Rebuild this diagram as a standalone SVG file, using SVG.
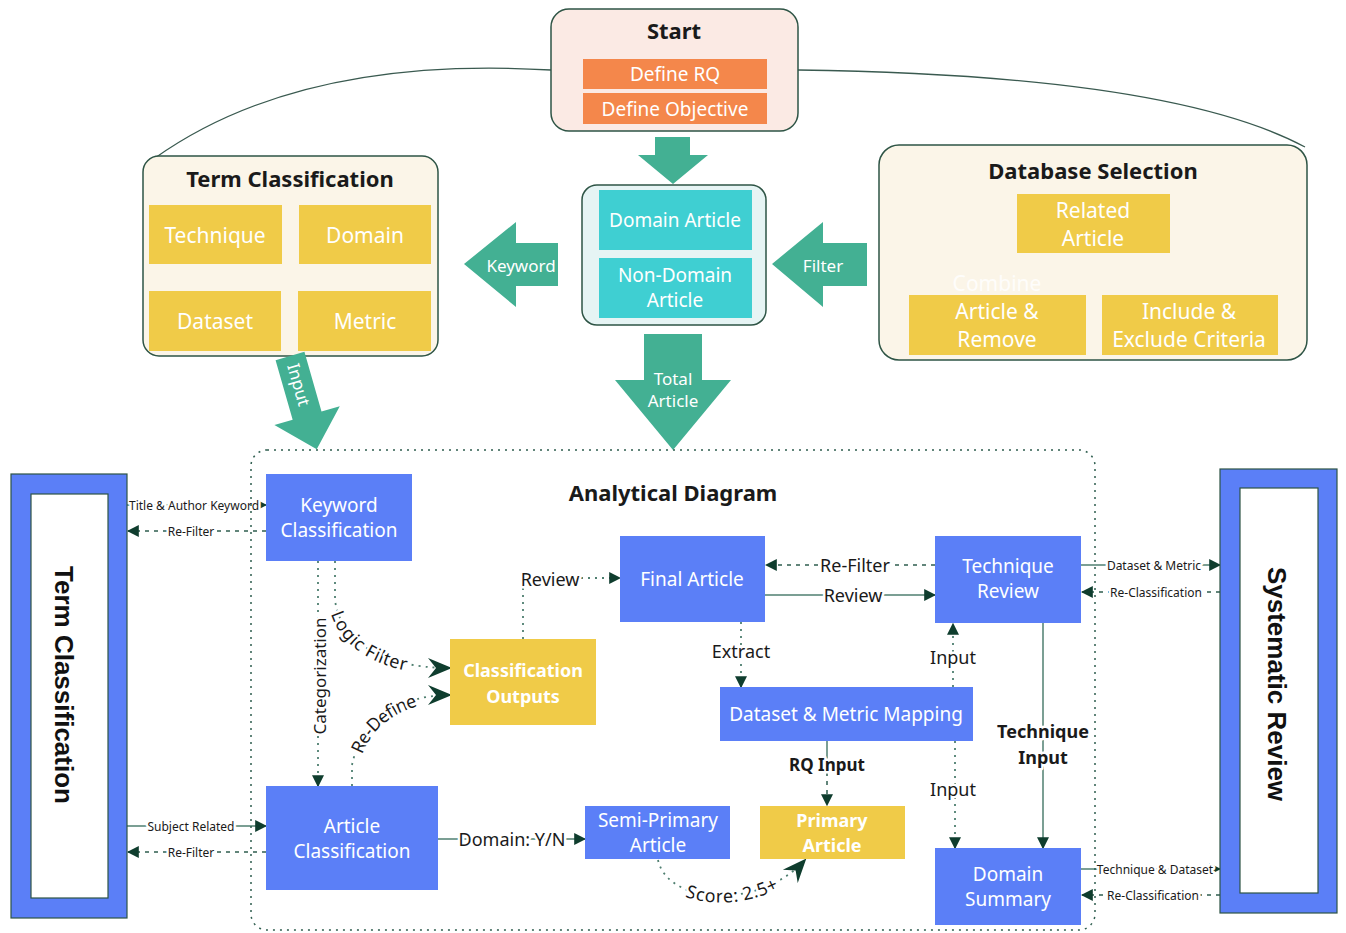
<svg xmlns="http://www.w3.org/2000/svg" width="1346" height="933" viewBox="0 0 1346 933">
<defs>
<marker id="tri" markerUnits="userSpaceOnUse" markerWidth="12" markerHeight="12" viewBox="0 0 10 10" refX="9" refY="5" orient="auto"><path d="M0,0 L10,5 L0,10 z" fill="#0f3d2e"/></marker>
<marker id="barb" markerUnits="userSpaceOnUse" markerWidth="26" markerHeight="20" viewBox="0 0 12 10" refX="11" refY="5" orient="auto"><path d="M0,0 L12,5 L0,10 L4,5 z" fill="#0f3d2e"/></marker>
<style>
.frame{fill:#fbf5e8;stroke:#2e5445;stroke-width:1.5}
.yel{fill:#f0cb48}
.blue{fill:#5b7ff7}
.cyan{fill:#3fcfd2}
.org{fill:#f4874b}
.garrow{fill:#43b093}
.wt{font-family:"Noto Sans","Open Sans",sans-serif;fill:#fff;text-anchor:middle;dominant-baseline:central}
.wb{font-family:"Noto Sans","Open Sans",sans-serif;fill:#fff;text-anchor:middle;dominant-baseline:central;font-weight:bold}
.title{font-family:"Noto Sans","Open Sans",sans-serif;fill:#1a1a1a;text-anchor:middle;dominant-baseline:central;font-weight:bold;font-size:22px}
.vt{font-family:"Liberation Sans",Arial,sans-serif;fill:#111;text-anchor:middle;dominant-baseline:central;font-weight:bold;font-size:26px}
.lab{font-family:"Noto Sans","Open Sans",sans-serif;fill:#1a1a1a;text-anchor:middle;dominant-baseline:central;stroke:#fff;stroke-width:5px;paint-order:stroke;stroke-linejoin:round}
.sl{font-size:12px}
.ml{font-size:18px}
.solid{fill:none;stroke:#4f7f70;stroke-width:1.5}
.dash{fill:none;stroke:#2f5e4f;stroke-width:1.5;stroke-dasharray:4 5}
.dot{fill:none;stroke:#4f7f70;stroke-width:1.8;stroke-dasharray:2 5}
.curve{fill:none;stroke:#3a5a50;stroke-width:1.3}
</style>
</defs>

<g id="connectors">
  <path class="curve" d="M551,70 Q300,55 155,158"/>
  <path class="curve" d="M798,70 Q1170,75 1305,147"/>
  <path class="dash" d="M1093,253 L1093,264 M968,264 L1190,264" stroke-dasharray="3 5"/>
  <path class="dash" d="M968,264 L968,295" stroke-dasharray="3 5" marker-end="url(#tri)"/>
  <path class="dash" d="M1190,264 L1190,295" stroke-dasharray="3 5" marker-end="url(#tri)"/>
  <path class="solid" d="M127,505 L266,505" marker-end="url(#tri)"/>
  <text class="lab sl" x="194" y="505">Title &amp; Author Keyword</text>
  <path class="dash" d="M266,531 L128,531" marker-end="url(#tri)"/>
  <text class="lab sl" x="191" y="531">Re-Filter</text>
  <path class="solid" d="M127,826 L266,826" marker-end="url(#tri)"/>
  <text class="lab sl" x="191" y="826">Subject Related</text>
  <path class="dash" d="M266,852 L128,852" marker-end="url(#tri)"/>
  <text class="lab sl" x="191" y="852">Re-Filter</text>
  <path class="solid" d="M1081,565 L1220,565" marker-end="url(#tri)"/>
  <text class="lab sl" x="1154" y="565">Dataset &amp; Metric</text>
  <path class="dash" d="M1220,592 L1082,592" marker-end="url(#tri)"/>
  <text class="lab sl" x="1156" y="592">Re-Classification</text>
  <path class="solid" d="M1081,869 L1220,869" marker-end="url(#tri)"/>
  <text class="lab sl" x="1155" y="869">Technique &amp; Dataset</text>
  <path class="dash" d="M1220,895 L1082,895" marker-end="url(#tri)"/>
  <text class="lab sl" x="1153" y="895">Re-Classification</text>
  <path class="dot" d="M318,561 L318,786" marker-end="url(#tri)"/>
  <text class="lab" font-size="17" transform="translate(319,676) rotate(-90)">Categorization</text>
  <path id="lf" class="dot" d="M335,561 L335,600 C340,640 380,668 450,668" marker-end="url(#barb)"/>
  <text class="lab" font-size="18"><textPath href="#lf" startOffset="52%" text-anchor="middle">Logic Filter</textPath></text>
  <path id="rd" class="dot" d="M352,786 L352,765 C360,725 395,695 450,695" marker-end="url(#barb)"/>
  <text class="lab" font-size="18"><textPath href="#rd" startOffset="50%" text-anchor="middle">Re-Define</textPath></text>
  <path class="dot" d="M523,639 L523,578 L620,578" marker-end="url(#tri)"/>
  <text class="lab ml" x="550" y="579">Review</text>
  <path class="dash" d="M935,565 L766,565" marker-end="url(#tri)"/>
  <text class="lab ml" x="855" y="565">Re-Filter</text>
  <path class="solid" d="M765,595 L935,595" marker-end="url(#tri)"/>
  <text class="lab ml" x="853" y="595">Review</text>
  <path class="dot" d="M741,622 L741,687" marker-end="url(#tri)"/>
  <text class="lab ml" x="741" y="651">Extract</text>
  <path class="dot" d="M953,687 L953,624" marker-end="url(#tri)"/>
  <text class="lab ml" x="953" y="657">Input</text>
  <path class="solid" d="M1043,623 L1043,848" marker-end="url(#tri)"/>
  <text class="lab ml" x="1043" y="731" font-weight="bold">Technique</text>
  <text class="lab ml" x="1043" y="757" font-weight="bold">Input</text>
  <path class="dot" d="M955,741 L955,848" marker-end="url(#tri)"/>
  <text class="lab ml" x="953" y="789">Input</text>
  <path class="solid" d="M827,741 L827,772"/>
  <path class="dash" d="M827,772 L827,805" stroke-dasharray="3 4" marker-end="url(#tri)"/>
  <text class="lab" font-size="17" font-weight="bold" x="827" y="764">RQ Input</text>
  <path class="solid" d="M438,839 L585,839" marker-end="url(#tri)"/>
  <text class="lab ml" x="512" y="839">Domain: Y/N</text>
  <path id="sc" class="dot" d="M658,860 C668,905 760,910 805,860" marker-end="url(#barb)"/>
  <text class="lab ml"><textPath href="#sc" startOffset="52%" text-anchor="middle">Score: 2.5+</textPath></text>
</g>

<g id="start">
  <rect x="551" y="9" width="247" height="122" rx="18" fill="#fbeae4" stroke="#2e5445" stroke-width="1.5"/>
  <text class="title" x="674" y="30" font-size="24">Start</text>
  <rect class="org" x="583" y="59" width="184" height="30"/>
  <text class="wt" x="675" y="74" font-size="19">Define RQ</text>
  <rect class="org" x="583" y="93" width="184" height="31"/>
  <text class="wt" x="675" y="109" font-size="19">Define Objective</text>
</g>

<g id="term-classification">
  <rect class="frame" x="143" y="156" width="295" height="200" rx="16"/>
  <text class="title" x="290" y="178">Term Classification</text>
  <rect class="yel" x="149" y="205" width="133" height="59"/>
  <text class="wt" x="215" y="235" font-size="21">Technique</text>
  <rect class="yel" x="299" y="205" width="132" height="59"/>
  <text class="wt" x="365" y="235" font-size="21">Domain</text>
  <rect class="yel" x="149" y="291" width="132" height="60"/>
  <text class="wt" x="215" y="321" font-size="21">Dataset</text>
  <rect class="yel" x="298" y="291" width="133" height="60"/>
  <text class="wt" x="365" y="321" font-size="21">Metric</text>
</g>

<g id="arrow-down-start">
  <path class="garrow" d="M655,137 L690,137 L690,155 L708,155 L673,184 L638,155 L655,155 z"/>
</g>

<g id="domain-articles">
  <rect x="582" y="185" width="184" height="140" rx="15" fill="#e6f4f4" stroke="#2e5445" stroke-width="1.5"/>
  <rect class="cyan" x="599" y="190" width="153" height="60"/>
  <text class="wt" x="675" y="220" font-size="19">Domain Article</text>
  <rect class="cyan" x="599" y="258" width="153" height="60"/>
  <text class="wt" x="675" y="275" font-size="19">Non-Domain</text>
  <text class="wt" x="675" y="300" font-size="19">Article</text>
</g>

<g id="keyword-arrow">
  <path class="garrow" d="M464,264 L516,222 L516,243 L558,243 L558,286 L516,286 L516,307 z"/>
  <text class="wt" x="521" y="265" font-size="17">Keyword</text>
</g>

<g id="filter-arrow">
  <path class="garrow" d="M772,264 L823,222 L823,243 L867,243 L867,286 L823,286 L823,307 z"/>
  <text class="wt" x="823" y="265" font-size="17">Filter</text>
</g>

<g id="total-article-arrow">
  <path class="garrow" d="M644,334 L702,334 L702,380 L731,380 L673,450 L615,380 L644,380 z"/>
  <text class="wt" x="673" y="378" font-size="17">Total</text>
  <text class="wt" x="673" y="400" font-size="17">Article</text>
</g>

<g id="database-selection">
  <rect class="frame" x="879" y="145" width="428" height="215" rx="20"/>
  <text class="title" x="1093" y="170">Database Selection</text>
  <rect class="yel" x="1017" y="194" width="153" height="59"/>
  <text class="wt" x="1093" y="210" font-size="21">Related</text>
  <text class="wt" x="1093" y="238" font-size="21">Article</text>
  <text class="wt" x="997" y="283" font-size="21" fill-opacity="0.85">Combine</text>
  <rect class="yel" x="909" y="295" width="177" height="60"/>
  <text class="wt" x="997" y="311" font-size="21">Article &amp;</text>
  <text class="wt" x="997" y="339" font-size="21">Remove</text>
  <rect class="yel" x="1102" y="295" width="176" height="60"/>
  <text class="wt" x="1189" y="311" font-size="21">Include &amp;</text>
  <text class="wt" x="1189" y="339" font-size="21">Exclude Criteria</text>
</g>

<g id="input-arrow">
  <g transform="translate(290,356) rotate(-16)">
    <path class="garrow" d="M-15,0 L15,0 L15,62 L34,62 L0,97 L-34,62 L-15,62 z"/>
    <text class="wt" font-size="17" transform="translate(1,30) rotate(90)">Input</text>
  </g>
</g>

<g id="analytical-diagram">
  <rect x="251" y="450" width="844" height="480" rx="16" fill="none" stroke="#2f5e4f" stroke-width="1.5" stroke-dasharray="2 5"/>
  <text class="title" x="673" y="492">Analytical Diagram</text>
</g>

<g id="term-classification-frame">
  <rect x="11" y="474" width="116" height="444" fill="#5b7ff7" stroke="#2e5445" stroke-width="1.2"/>
  <rect x="31" y="494" width="77" height="404" fill="#fff" stroke="#2e5445" stroke-width="1.2"/>
  <text class="vt" transform="translate(64,685) rotate(90)">Term Classification</text>
</g>

<g id="systematic-review-frame">
  <rect x="1220" y="469" width="117" height="444" fill="#5b7ff7" stroke="#2e5445" stroke-width="1.2"/>
  <rect x="1240" y="488" width="78" height="405" fill="#fff" stroke="#2e5445" stroke-width="1.2"/>
  <text class="vt" transform="translate(1277,684) rotate(90)">Systematic Review</text>
</g>

<g id="keyword-classification">
  <rect class="blue" x="266" y="474" width="146" height="87"/>
  <text class="wt" x="339" y="505" font-size="19">Keyword</text>
  <text class="wt" x="339" y="530" font-size="19">Classification</text>
</g>

<g id="article-classification">
  <rect class="blue" x="266" y="786" width="172" height="104"/>
  <text class="wt" x="352" y="826" font-size="19">Article</text>
  <text class="wt" x="352" y="851" font-size="19">Classification</text>
</g>

<g id="classification-outputs">
  <rect class="yel" x="450" y="639" width="146" height="86"/>
  <text class="wb" x="523" y="670" font-size="18">Classification</text>
  <text class="wb" x="523" y="696" font-size="18">Outputs</text>
</g>

<g id="final-article">
  <rect class="blue" x="620" y="536" width="145" height="86"/>
  <text class="wt" x="692" y="579" font-size="19">Final Article</text>
</g>

<g id="technique-review">
  <rect class="blue" x="935" y="536" width="146" height="87"/>
  <text class="wt" x="1008" y="566" font-size="19">Technique</text>
  <text class="wt" x="1008" y="591" font-size="19">Review</text>
</g>

<g id="dataset-metric-mapping">
  <rect class="blue" x="720" y="687" width="253" height="54"/>
  <text class="wt" x="846" y="714" font-size="19">Dataset &amp; Metric Mapping</text>
</g>

<g id="semi-primary-article">
  <rect class="blue" x="585" y="806" width="145" height="53"/>
  <text class="wt" x="658" y="820" font-size="19">Semi-Primary</text>
  <text class="wt" x="658" y="845" font-size="19">Article</text>
</g>

<g id="primary-article">
  <rect class="yel" x="760" y="806" width="145" height="53"/>
  <text class="wb" x="832" y="820" font-size="18">Primary</text>
  <text class="wb" x="832" y="845" font-size="18">Article</text>
</g>

<g id="domain-summary">
  <rect class="blue" x="935" y="848" width="146" height="77"/>
  <text class="wt" x="1008" y="874" font-size="19">Domain</text>
  <text class="wt" x="1008" y="899" font-size="19">Summary</text>
</g>
</svg>
